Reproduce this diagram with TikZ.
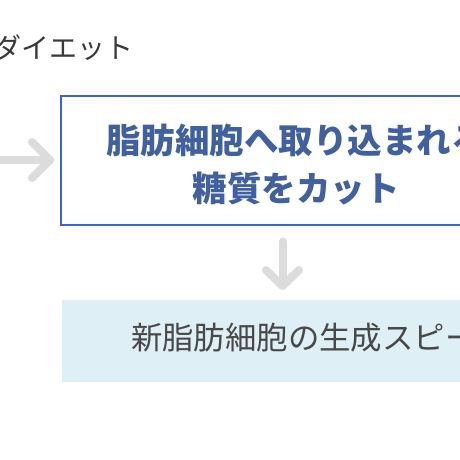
\documentclass[tikz,border=0pt]{standalone}
\usepackage{fontspec}
\newfontfamily\jpfont{Noto Sans CJK JP}
\definecolor{toptxt}{RGB}{58,58,58}
\definecolor{bluetxt}{RGB}{64,96,160}
\definecolor{blueline}{RGB}{60,100,205}
\definecolor{arrowgray}{RGB}{220,220,220}
\definecolor{lightfill}{RGB}{222,239,245}
\definecolor{lowtxt}{RGB}{72,72,72}
\tikzset{
  plain/.style={inner sep=0pt, outer sep=0pt},
  toptext/.style={plain, text=toptxt, font=\jpfont\fontsize{28pt}{32pt}\selectfont},
  bluebox/.style={plain, draw=blueline, line width=2pt, fill=white, minimum width=470pt, minimum height=129pt},
  bluetext/.style={plain, text=bluetxt, font=\jpfont\bfseries\fontsize{34.5pt}{48pt}\selectfont},
  lightbox/.style={plain, fill=lightfill, minimum width=470pt, minimum height=82pt},
  lowtext/.style={plain, text=lowtxt, font=\jpfont\fontsize{31.4pt}{36pt}\selectfont},
  grayarrow/.style={draw=arrowgray, line width=8pt, line cap=round, line join=round},
}
\begin{document}
\begin{tikzpicture}[x=1pt, y=-1pt]
\useasboundingbox (0,0) rectangle (460,460);
\clip (0,0) rectangle (460,460);
\fill[white] (0,0) rectangle (460,460);
% top label
\node[toptext, anchor=base east] (diet) at (133,58.5) {ダイエット};
% blue box with its two lines
\node[bluebox] (cut) at (296,160) {};
\node[bluetext, anchor=base] (cut1) at (296,153) {脂肪細胞へ取り込まれる};
\node[bluetext, anchor=base] (cut2) at (296,201) {糖質をカット};
% light box
\node[lightbox, anchor=north west] (speed) at (62,300) {};
\node[lowtext, anchor=base west] (speedtxt) at (131,349) {新脂肪細胞の生成スピー};
% left arrow into blue box
\coordinate (lstart) at (-10,160);
\coordinate (ltip) at ([xshift=-11pt]cut.west);
\draw[grayarrow] (lstart) -- (ltip);
\draw[grayarrow] ([xshift=-18pt,yshift=18pt]ltip) -- (ltip) -- ([xshift=-18pt,yshift=-18pt]ltip);
% down arrow from blue box to light box
\coordinate (dstart) at ([xshift=-13.5pt,yshift=-17pt]cut.south);
\coordinate (snorth) at ([yshift=14pt]speed.north);
\coordinate (dtip) at (dstart |- snorth);
\draw[grayarrow] (dstart) -- (dtip);
\draw[grayarrow] ([xshift=-16.5pt,yshift=16pt]dtip) -- (dtip) -- ([xshift=16.5pt,yshift=16pt]dtip);
\end{tikzpicture}
\end{document}
